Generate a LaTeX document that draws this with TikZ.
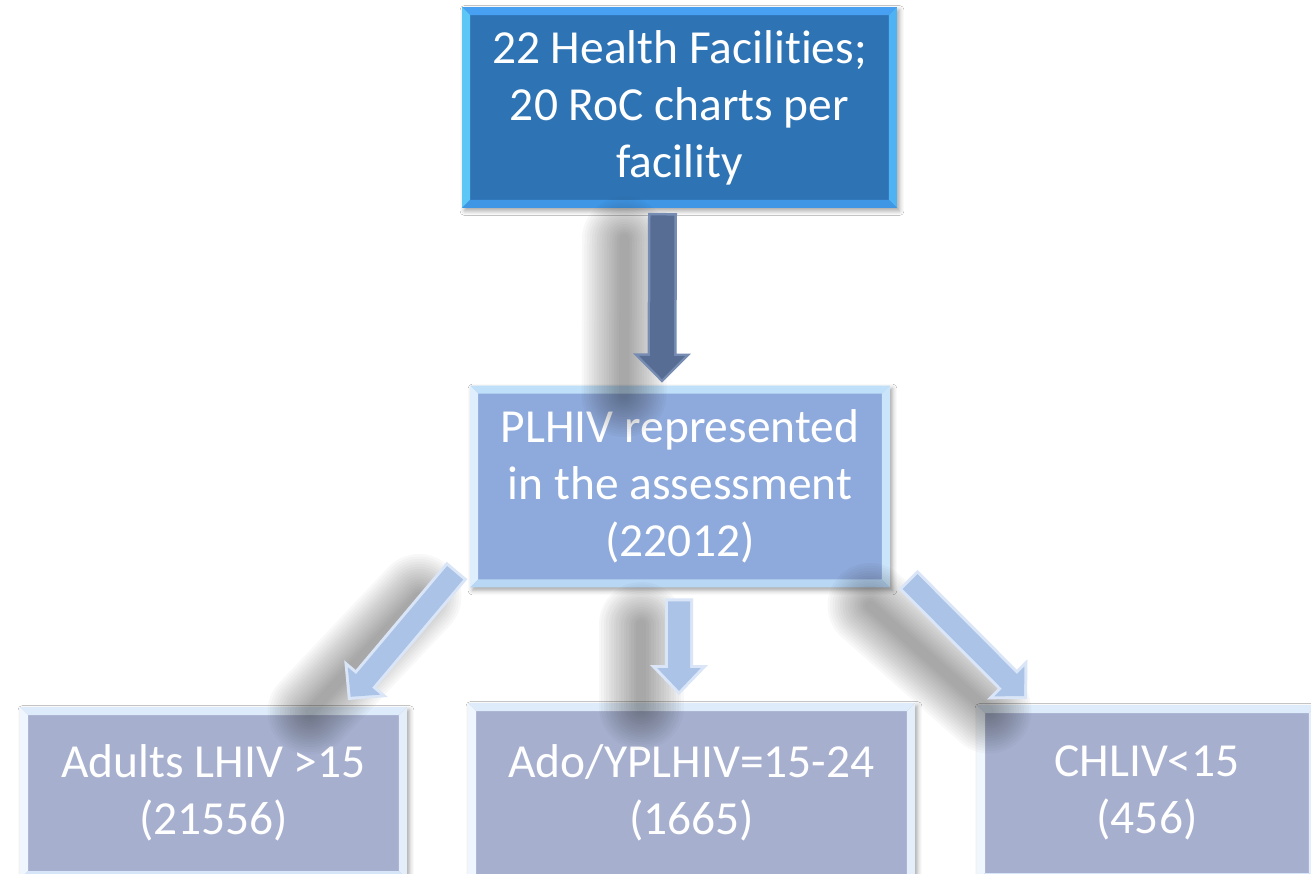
\documentclass[tikz,border=0pt]{standalone}
\usepackage{fontspec}
\setmainfont{Carlito}[Ligatures=NoCommon]
\usetikzlibrary{calc,shadows.blur}

% box colours: fill, bevel top, bevel left, bevel right, bevel bottom
\definecolor{darkfill}{RGB}{46,116,181}
\definecolor{darktop}{RGB}{72,160,243}
\definecolor{darkleft}{RGB}{92,198,246}
\definecolor{darkright}{RGB}{78,178,243}
\definecolor{darkbot}{RGB}{62,150,229}
\definecolor{midfill}{RGB}{142,169,219}
\definecolor{midtop}{RGB}{192,223,248}
\definecolor{midleft}{RGB}{222,238,252}
\definecolor{midright}{RGB}{202,228,250}
\definecolor{midbot}{RGB}{184,215,245}
\definecolor{lowfill}{RGB}{166,175,206}
\definecolor{lowtop}{RGB}{222,235,250}
\definecolor{lowleft}{RGB}{240,246,253}
\definecolor{lowright}{RGB}{228,238,250}
\definecolor{lowbot}{RGB}{214,230,248}
% arrow colours
\definecolor{steel}{RGB}{88,109,148}
\definecolor{steeledge}{RGB}{118,140,178}
\definecolor{pale}{RGB}{172,195,232}
\definecolor{paleedge}{RGB}{218,230,247}
\definecolor{shade}{RGB}{30,30,30}

\def\bv{0.16cm}

\tikzset{
  bevelbox/.style n args={5}{
    fill=#1, draw=none, inner sep=0pt, outer sep=0pt,
    text=white, align=center, font=\fontsize{27}{32.5}\selectfont,
    blur shadow={shadow xshift=0.05cm, shadow yshift=-0.06cm,
      shadow blur radius=0.09cm, shadow opacity=35},
    path picture={
      \fill[#2] (path picture bounding box.north west) -- (path picture bounding box.north east)
        -- ([shift={(-\bv,-\bv)}]path picture bounding box.north east)
        -- ([shift={(\bv,-\bv)}]path picture bounding box.north west) -- cycle;
      \fill[#3] (path picture bounding box.north west) -- (path picture bounding box.south west)
        -- ([shift={(\bv,\bv)}]path picture bounding box.south west)
        -- ([shift={(\bv,-\bv)}]path picture bounding box.north west) -- cycle;
      \fill[#4] (path picture bounding box.north east) -- (path picture bounding box.south east)
        -- ([shift={(-\bv,\bv)}]path picture bounding box.south east)
        -- ([shift={(-\bv,-\bv)}]path picture bounding box.north east) -- cycle;
      \fill[#5] (path picture bounding box.south west) -- (path picture bounding box.south east)
        -- ([shift={(-\bv,\bv)}]path picture bounding box.south east)
        -- ([shift={(\bv,\bv)}]path picture bounding box.south west) -- cycle;
    }},
  headbox/.style={bevelbox={darkfill}{darktop}{darkleft}{darkright}{darkbot}},
  groupbox/.style={bevelbox={midfill}{midtop}{midleft}{midright}{midbot}},
  subbox/.style={bevelbox={lowfill}{lowtop}{lowleft}{lowright}{lowbot}},
  shadowlayer/.style={draw=shade, line cap=round, draw opacity=0.026},
}

% soft cast shadow of an arrow: stacked translucent strokes
\newcommand\castshadow[2]{%
  \foreach \w in {1.7,1.6,...,0.2}
    \draw[shadowlayer, line width=\w cm] ($(#1)+(-38,26)$) -- ($(#2)+(-38,12)$);
}

% block arrow from #2 to #3: #4 shaft half-width, #5 head half-width, #6 head length
\newcommand\blockarrow[6]{%
  \coordinate (hb) at ($(#3)!#6!(#2)$);
  \path[#1] ($(#2)!#4!90:(#3)$) -- ($(hb)!#4!90:(#3)$) -- ($(hb)!#5!90:(#3)$) -- (#3)
    -- ($(hb)!#5!-90:(#3)$) -- ($(hb)!#4!-90:(#3)$) -- ($(#2)!#4!-90:(#3)$) -- cycle;
}

% bevelled block arrow: outer rim plus inset body
\newcommand\bevelarrow[8]{% #1 rim, #2 body, #3 from, #4 to, #5 a, #6 b, #7 L, #8 inset
  \blockarrow{fill=#1}{#3}{#4}{#5cm}{#6cm}{#7cm}
  \coordinate (ia) at ($(#3)!#8cm!(#4)$);
  \coordinate (ib) at ($(#4)!1.4*#8cm!(#3)$);
  \blockarrow{fill=#2}{ia}{ib}{#5cm-#8cm}{#6cm-2.4*#8cm}{#7cm-2.4*#8cm}
}

\begin{document}
\begin{tikzpicture}[x=0.02cm, y=-0.02cm]
  \useasboundingbox (0,0) rectangle (1311,873);
  \clip (0,0) rectangle (1311,873);
  \fill[white] (0,0) rectangle (1311,873);

  \node[headbox, minimum width=8.70cm, minimum height=4.02cm] (top) at (679.5,107.5)
    {22 Health Facilities;\\20 RoC charts per\\facility};
  \node[groupbox, minimum width=8.40cm, minimum height=4.04cm] (plhiv) at (680,486.5)
    {PLHIV represented\\in the assessment\\(22012)};
  \node[subbox, minimum width=7.74cm, minimum height=3.44cm] (adult) at (213.5,793)
    {Adults LHIV >15\\(21556)};
  \node[subbox, minimum width=8.94cm, minimum height=3.60cm] (ado) at (691.5,793)
    {Ado/YPLHIV=15-24\\(1665)};
  \node[subbox, minimum width=6.80cm, minimum height=3.52cm] (chl) at (1147,793)
    {CHLIV<15\\(456)};

  % arrow end points
  \coordinate (a1s) at ([shift={(-17,5)}]top.south);
  \coordinate (a1e) at ([shift={(-18,-3)}]plhiv.north);
  \coordinate (a2s) at ([shift={(-13,-17)}]plhiv.south west);
  \coordinate (a2e) at ([shift={(-59,-7)}]adult.north east);
  \coordinate (a3s) at ([shift={(-1,11)}]plhiv.south);
  \coordinate (a3e) at ([shift={(-12.5,-8)}]ado.north);
  \coordinate (a4s) at ([shift={(18,-8)}]plhiv.south east);
  \coordinate (a4e) at ([shift={(50,-6)}]chl.north west);

  \castshadow{a1s}{a1e}
  \castshadow{a2s}{a2e}
  \castshadow{a3s}{a3e}
  \castshadow{a4s}{a4e}

  \bevelarrow{steeledge}{steel}{a1s}{a1e}{0.29}{0.58}{0.58}{0.05}
  \bevelarrow{paleedge}{pale}{a2s}{a2e}{0.27}{0.57}{0.56}{0.06}
  \bevelarrow{paleedge}{pale}{a3s}{a3e}{0.28}{0.58}{0.60}{0.06}
  \bevelarrow{paleedge}{pale}{a4s}{a4e}{0.27}{0.57}{0.56}{0.06}
\end{tikzpicture}
\end{document}
